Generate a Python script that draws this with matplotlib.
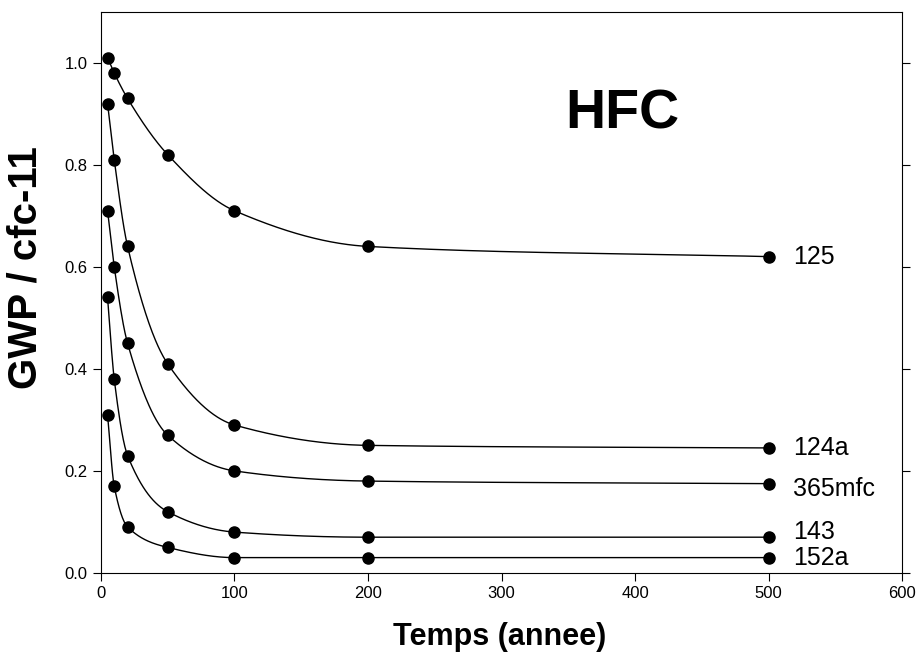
import numpy as np
import matplotlib
matplotlib.use('Agg')
import matplotlib.pyplot as plt

plt.rcParams['font.family'] = ['Liberation Sans', 'DejaVu Sans']

years = [5, 10, 20, 50, 100, 200, 500]
gwp_125 = [1.01, 0.98, 0.93, 0.82, 0.71, 0.64, 0.62]
gwp_124a = [0.92, 0.81, 0.64, 0.41, 0.29, 0.25, 0.245]
gwp_365mfc = [0.71, 0.60, 0.45, 0.27, 0.20, 0.18, 0.175]
gwp_143 = [0.54, 0.38, 0.23, 0.12, 0.08, 0.07, 0.07]
gwp_152a = [0.31, 0.17, 0.09, 0.05, 0.03, 0.03, 0.03]

names = ['125', '124a', '365mfc', '143', '152a']
series = [gwp_125, gwp_124a, gwp_365mfc, gwp_143, gwp_152a]
label_y = [0.62, 0.245, 0.165, 0.08, 0.03]


def pchip(x, y, xs):
    # monotone cubic curve through the points, only for drawing the line
    x = np.asarray(x, float)
    y = np.asarray(y, float)
    h = np.diff(x)
    d = np.diff(y) / h
    m = np.zeros_like(y)
    for k in range(1, len(x) - 1):
        if d[k - 1] * d[k] > 0:
            w1 = 2 * h[k] + h[k - 1]
            w2 = h[k] + 2 * h[k - 1]
            m[k] = (w1 + w2) / (w1 / d[k - 1] + w2 / d[k])
    m[0] = d[0]
    m[-1] = d[-1]
    out = np.empty_like(xs)
    for i, xv in enumerate(xs):
        k = min(np.searchsorted(x, xv, side='right') - 1, len(x) - 2)
        t = (xv - x[k]) / h[k]
        h00 = 2 * t**3 - 3 * t**2 + 1
        h10 = t**3 - 2 * t**2 + t
        h01 = -2 * t**3 + 3 * t**2
        h11 = t**3 - t**2
        out[i] = h00 * y[k] + h10 * h[k] * m[k] + h01 * y[k + 1] + h11 * h[k] * m[k + 1]
    return out


fig = plt.figure(figsize=(9.17, 6.54), dpi=100)
ax = fig.add_axes([0.110, 0.124, 0.874, 0.858])

xs = np.linspace(years[0], years[-1], 800)
for name, vals, ly in zip(names, series, label_y):
    ax.plot(xs, pchip(years, vals, xs), color='black', lw=1.0)
    ax.plot(years, vals, 'o', color='black', ms=8)
    ax.text(518, ly, name, fontsize=18, va='center', ha='left')

ax.text(390, 0.898, 'HFC', fontsize=40, fontweight='bold', ha='center', va='center')

ax.set_xlim(0, 600)
ax.set_ylim(0, 1.1)
ax.set_xticks(range(0, 601, 100))
ax.set_yticks(np.arange(0, 1.01, 0.2))
ax.set_yticklabels(['{:.1f}'.format(v) for v in np.arange(0, 1.01, 0.2)])
ax.tick_params(axis='both', direction='out', length=6, labelsize=12)
ax.tick_params(axis='y', right=True, labelright=False)
ax.set_xlabel('Temps (annee)', fontsize=22, fontweight='bold', va='center')
ax.set_ylabel('GWP / cfc-11', fontsize=29, fontweight='bold', va='center')
ax.xaxis.set_label_coords(0.498, -0.114)
ax.yaxis.set_label_coords(-0.094, 0.544)

fig.savefig('out.png', dpi=100)
